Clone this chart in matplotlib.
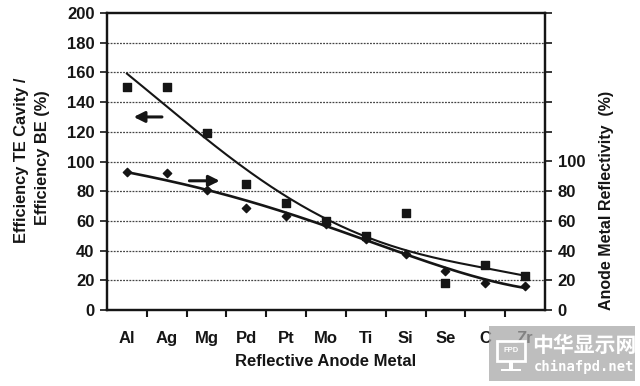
import numpy as np
import matplotlib
matplotlib.use("Agg")
import matplotlib.pyplot as plt
from matplotlib.patches import Rectangle

categories = ["Al", "Ag", "Mg", "Pd", "Pt", "Mo", "Ti", "Si", "Se", "C", "Zr"]
efficiency_ratio = [150, 150, 119, 85, 72, 60, 50, 65, 18, 30, 23]
reflectivity = [93, 92, 81, 69, 63, 58, 48, 38, 26, 18, 16]
# trend-line values read at each category position
efficiency_trend = [158.8, 137.5, 116, 93.5, 76, 61, 50.5, 41, 33, 27.5, 23.5]
reflectivity_trend = [92.3, 88.5, 81, 72.5, 65, 57.5, 47.5, 37.5, 28, 20.5, 15]
left_ticks = [0, 20, 40, 60, 80, 100, 120, 140, 160, 180, 200]
right_ticks = [0, 20, 40, 60, 80, 100, 120, 140, 160, 180, 200]
right_labels = ["0", "20", "40", "60", "80", "100", "", "", "", "", ""]

plt.rcParams['font.family'] = ['Liberation Sans', 'DejaVu Sans']
plt.rcParams['font.weight'] = 'bold'
ink = '#151515'
fs = 12

fig = plt.figure(figsize=(6.4, 3.86), dpi=100)
ax = fig.add_axes([107/640, 1-310/386, 438/640, 297/386])
x = np.arange(len(categories))

ax.set_xlim(-0.5, len(categories) - 0.5)
ax.set_ylim(0, 200)
ax.set_yticks(left_ticks)
ax.set_yticklabels([str(t) for t in left_ticks], fontsize=fs, fontweight='bold', color=ink)
ax.set_xticks(x)
ax.set_xticklabels(categories, fontsize=fs, fontweight='bold', color=ink)
ax.tick_params(axis='x', which='major', length=0, pad=15)
ax.set_xticks(np.arange(0.5, len(categories) - 1, 1.0), minor=True)
ax.tick_params(axis='x', which='minor', length=5, width=1.5, direction='out', color=ink)
ax.tick_params(axis='y', length=5, width=1.2, direction='out', color=ink, pad=4)

for t in left_ticks[1:-1]:
    ax.axhline(t, color='#444444', linestyle=(0, (1.5, 1)), linewidth=0.9, zorder=1)

for s in ax.spines.values():
    s.set_linewidth(1.6)
    s.set_color(ink)

# smooth trend curves (polynomial smoothing of the read trend values)
xf = np.linspace(0, len(categories) - 1, 200)
p1 = np.polyfit(x, efficiency_trend, 4)
p2 = np.polyfit(x, reflectivity_trend, 4)
ax.plot(xf, np.polyval(p1, xf), color=ink, linewidth=1.5, zorder=3)
ax.scatter(x, efficiency_ratio, marker='s', s=30, color=ink, zorder=4)

ax2 = ax.twinx()
ax2.set_ylim(0, 200)
ax2.set_yticks(right_ticks)
ax2.set_yticklabels(right_labels, fontsize=fs, fontweight='bold', color=ink)
ax2.tick_params(axis='y', length=5, width=1.2, direction='out', color=ink, pad=4)
for s in ax2.spines.values():
    s.set_linewidth(1.6)
    s.set_color(ink)
ax2.plot(xf, np.polyval(p2, xf), color=ink, linewidth=1.9, zorder=3)
ax2.scatter(x, reflectivity, marker='D', s=18, color=ink, zorder=4)

# arrows
ax.annotate('', xy=(0.1, 130), xytext=(0.95, 130),
            arrowprops=dict(arrowstyle='-|>', color=ink, lw=2.2, mutation_scale=16))
ax2.annotate('', xy=(2.4, 87), xytext=(1.5, 87),
             arrowprops=dict(arrowstyle='-|>', color=ink, lw=2.2, mutation_scale=16))

ax.set_xlabel("Reflective Anode Metal", fontsize=fs, fontweight='bold', color=ink, labelpad=6)
fig.text(22/640, 1-160/386, "Efficiency TE Cavity /", rotation=90, ha='center', va='center',
         fontsize=11.8, fontweight='bold', color=ink)
fig.text(43/640, 1-158/386, "Efficiency BE (%)", rotation=90, ha='center', va='center',
         fontsize=11.8, fontweight='bold', color=ink)
fig.text(607/640, 1-200/386, "Anode Metal Reflectivity  (%)", rotation=90, ha='center', va='center',
         fontsize=11.5, fontweight='bold', color=ink)

# watermark (semi-transparent overlay)
fig.patches.append(Rectangle((489/640, 1-381/386), 146/640, 55/386, transform=fig.transFigure,
                             facecolor='#a8a8a8', edgecolor='none', alpha=0.75, zorder=10))
fig.text(584/640, 1-345/386, "中华显示网", ha='center', va='center', fontsize=15, fontweight='bold',
         color='white', family=['Noto Sans CJK SC', 'DejaVu Sans'], zorder=11)
fig.text(584/640, 1-367/386, "chinafpd.net", ha='center', va='center', fontsize=10,
         color='white', family=['DejaVu Sans Mono', 'DejaVu Sans'], zorder=11)
fig.patches.append(Rectangle((497/640, 1-361/386), 28/640, 20/386, transform=fig.transFigure,
                             facecolor='none', edgecolor='white', linewidth=2, zorder=11))
fig.text(511/640, 1-351/386, "FPD", ha='center', va='center', fontsize=5.5, color='white', zorder=12)
fig.patches.append(Rectangle((509/640, 1-369/386), 4/640, 8/386, transform=fig.transFigure,
                             facecolor='white', edgecolor='none', zorder=11))
fig.patches.append(Rectangle((501/640, 1-371/386), 20/640, 2.5/386, transform=fig.transFigure,
                             facecolor='white', edgecolor='none', zorder=11))

fig.savefig("out.png", dpi=100)
